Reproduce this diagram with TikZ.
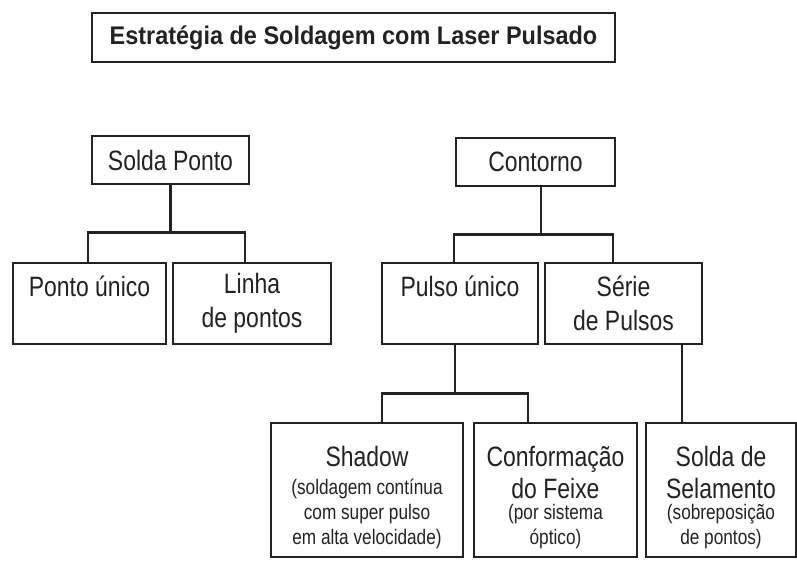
\documentclass[tikz,border=0pt]{standalone}
\usepackage{fontspec}
\setmainfont{Liberation Sans}
\newfontfamily\narrowf{Liberation Sans}[FakeStretch=0.82]
\newfontfamily\titlef{Liberation Sans}[FakeStretch=0.92]
\usetikzlibrary{calc}

\definecolor{tinta}{HTML}{222222}
\tikzset{
  caixa/.style={draw=tinta, text=tinta, line width=2.8pt, rectangle, inner sep=0pt,
    align=center, font=\narrowf\fontsize{28}{34}\selectfont},
  liga/.style={draw=tinta, line width=2.8pt}
}
\newcommand{\pq}[1]{{\fontsize{21}{24}\selectfont #1}}
\newcommand{\desce}{\rule{0pt}{36pt}}

\begin{document}
\begin{tikzpicture}[x=1pt,y=-1pt]
    \useasboundingbox (0,0) rectangle (797,560);
    \fill[white] (0,0) rectangle (797,560);

    % titulo
    \node[caixa, font=\titlef\bfseries\fontsize{25.5}{30}\selectfont,
      minimum width=523, minimum height=49] (titulo) at (353.5,37.5)
      {Estratégia de Soldagem com Laser Pulsado};

    % primeiro nivel
    \node[caixa, minimum width=157, minimum height=48] (sp) at (170.5,160) {Solda Ponto};
    \node[caixa, minimum width=159, minimum height=48] (ct) at (535.5,162) {Contorno};

    % segundo nivel
    \node[caixa, minimum width=153, minimum height=81] (pu) at (89.5,303.5) {Ponto único\\~};
    \node[caixa, minimum width=158, minimum height=81] (lp) at (252,303.5) {Linha\\de pontos};
    \node[caixa, minimum width=156, minimum height=81] (pul) at (460,303.5) {Pulso único\\~};
    \node[caixa, minimum width=157, minimum height=81] (ser) at (623.5,303.5) {Série\\de Pulsos};

    % terceiro nivel
    \node[caixa, minimum width=192, minimum height=134] (sh) at (367,490)
      {\desce Shadow\\[-6pt]\pq{(soldagem contínua}\\[-9pt]\pq{com super pulso}\\[-9pt]\pq{em alta velocidade)}};
    \node[caixa, minimum width=163, minimum height=134] (cf) at (555.5,490)
      {\desce Conformação\\[-2pt]do Feixe\\[-13pt]\pq{(por sistema}\\[-9pt]\pq{óptico)}};
    \node[caixa, minimum width=150, minimum height=134] (sel) at (721,490)
      {\desce Solda de\\[-2pt]Selamento\\[-13pt]\pq{(sobreposição}\\[-9pt]\pq{de pontos)}};

    % ligacoes
    \draw[liga] (sp.south) -- ++(0,47) coordinate (jsp);
    \draw[liga] ([xshift=-1.5pt]pu.north) |- (jsp) -| ([xshift=-7pt]lp.north);

    \draw[liga] ([xshift=5.5pt]ct.south) -- ++(0,47) coordinate (jct);
    \draw[liga] ([xshift=-6pt]pul.north) |- (jct) -| ([xshift=-10.5pt]ser.north);

    \draw[liga] ([xshift=-5pt]pul.south) -- ++(0,48) coordinate (jpul);
    \draw[liga] ([xshift=15pt]sh.north) |- (jpul) -| ([xshift=-27.5pt]cf.north);

    \draw[liga] ([xshift=58.5pt]ser.south) -- ([xshift=-39pt]sel.north);
\end{tikzpicture}
\end{document}
